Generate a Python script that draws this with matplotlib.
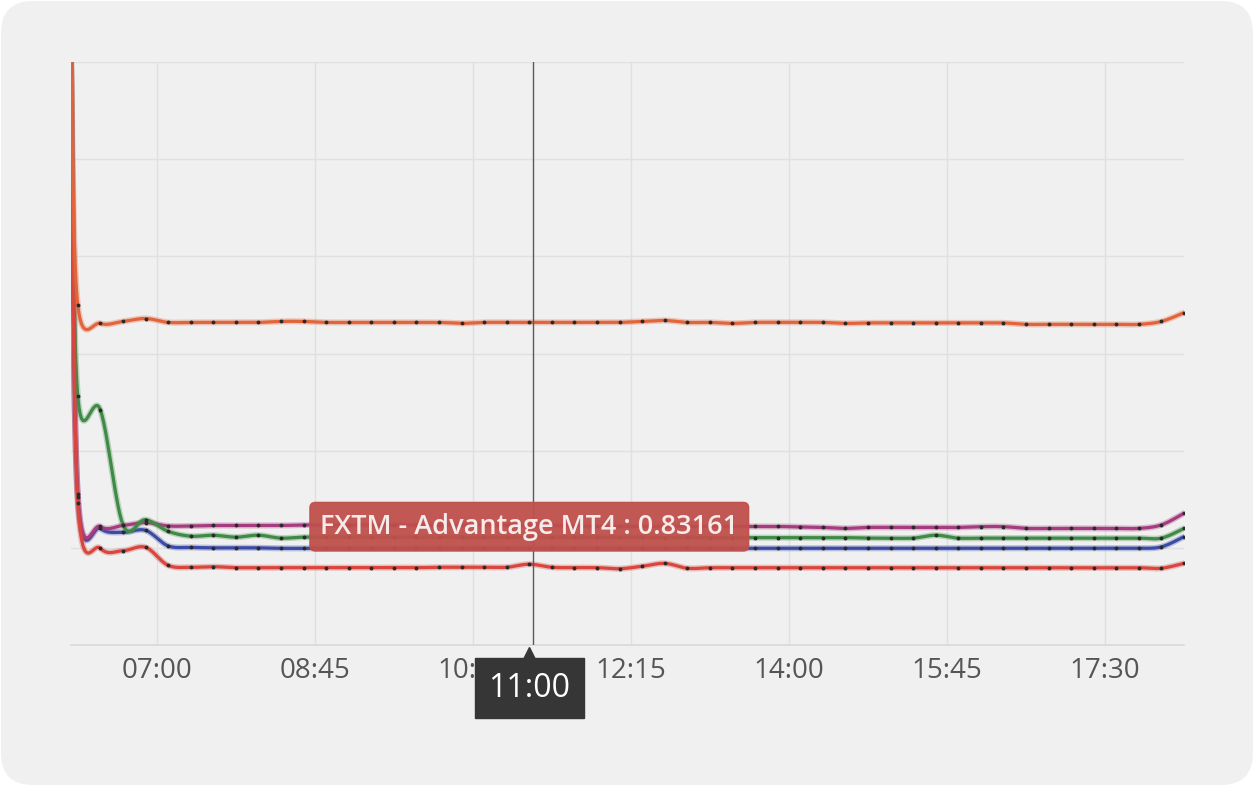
import numpy as np
import matplotlib
matplotlib.use("Agg")
import matplotlib.pyplot as plt
from matplotlib.patches import FancyBboxPatch
from matplotlib.transforms import IdentityTransform, blended_transform_factory, offset_copy

plt.rcParams['font.family'] = ['Open Sans', 'DejaVu Sans']

# vremena uzoraka (HH:MM:SS)
times = ["06:03:00", "06:07:30", "06:22:30", "06:37:30", "06:52:30", "07:07:30",
         "07:22:30", "07:37:30", "07:52:30", "08:07:30", "08:22:30", "08:37:30",
         "08:52:30", "09:07:30", "09:22:30", "09:37:30", "09:52:30", "10:07:30",
         "10:22:30", "10:37:30", "10:52:30", "11:07:30", "11:22:30", "11:37:30",
         "11:52:30", "12:07:30", "12:22:30", "12:37:30", "12:52:30", "13:07:30",
         "13:22:30", "13:37:30", "13:52:30", "14:07:30", "14:22:30", "14:37:30",
         "14:52:30", "15:07:30", "15:22:30", "15:37:30", "15:52:30", "16:07:30",
         "16:22:30", "16:37:30", "16:52:30", "17:07:30", "17:22:30", "17:37:30",
         "17:52:30", "18:07:30", "18:22:30"]

orange = [6.00, 3.50, 3.31, 3.33, 3.36, 3.32, 3.32, 3.32, 3.32, 3.32,
          3.33, 3.33, 3.32, 3.32, 3.32, 3.32, 3.32, 3.32, 3.31, 3.32,
          3.32, 3.32, 3.32, 3.32, 3.32, 3.32, 3.33, 3.34, 3.32, 3.32,
          3.31, 3.32, 3.32, 3.32, 3.32, 3.31, 3.315, 3.315, 3.315, 3.315,
          3.315, 3.315, 3.315, 3.30, 3.30, 3.30, 3.30, 3.30, 3.30, 3.33, 3.42]

purple = [6.00, 1.55, 1.22, 1.23, 1.26, 1.225, 1.225, 1.23, 1.23, 1.23,
          1.23, 1.235, 1.235, 1.235, 1.235, 1.235, 1.235, 1.235, 1.235, 1.235,
          1.235, 1.235, 1.23, 1.225, 1.22, 1.22, 1.22, 1.22, 1.22, 1.22,
          1.22, 1.22, 1.22, 1.215, 1.21, 1.20, 1.21, 1.21, 1.21, 1.21,
          1.21, 1.218, 1.218, 1.20, 1.20, 1.20, 1.20, 1.20, 1.20, 1.236, 1.356]

green = [6.00, 2.56, 2.42, 1.24, 1.29, 1.17, 1.12, 1.13, 1.11, 1.13,
         1.10, 1.11, 1.11, 1.11, 1.11, 1.11, 1.11, 1.11, 1.11, 1.11,
         1.11, 1.11, 1.11, 1.11, 1.11, 1.11, 1.11, 1.105, 1.11, 1.105,
         1.105, 1.105, 1.105, 1.105, 1.105, 1.105, 1.10, 1.10, 1.10, 1.13,
         1.10, 1.10, 1.10, 1.10, 1.10, 1.10, 1.10, 1.10, 1.10, 1.10, 1.20]

blue = [6.00, 1.52, 1.20, 1.16, 1.18, 1.02, 1.005, 1.00, 1.00, 1.00,
        0.995, 0.995, 0.995, 0.995, 0.995, 0.995, 0.995, 0.995, 0.995, 0.995,
        0.995, 0.995, 0.995, 0.995, 0.995, 0.995, 0.995, 0.995, 0.995, 0.995,
        0.995, 0.995, 0.995, 0.995, 0.995, 0.995, 0.995, 0.995, 0.995, 0.995,
        0.995, 0.995, 0.995, 0.995, 0.995, 0.995, 0.995, 0.995, 0.995, 1.01, 1.115]

red = [6.00, 1.46, 0.996, 0.97, 1.006, 0.82, 0.80, 0.806, 0.796, 0.796,
       0.796, 0.796, 0.796, 0.796, 0.796, 0.796, 0.796, 0.80, 0.80, 0.80,
       0.80, 0.83161, 0.80, 0.796, 0.796, 0.785, 0.81, 0.84, 0.79, 0.795,
       0.795, 0.795, 0.795, 0.795, 0.795, 0.795, 0.795, 0.795, 0.795, 0.795,
       0.795, 0.795, 0.795, 0.795, 0.795, 0.795, 0.795, 0.795, 0.795, 0.79, 0.84]

tick_labels = ["07:00", "08:45", "10:30", "12:15", "14:00", "15:45", "17:30"]

series = [("blue", blue, "#3b4ba6"),
          ("purple", purple, "#a53c7f"),
          ("green", green, "#3f8a46"),
          ("FXTM - Advantage MT4", red, "#d8463d"),
          ("orange", orange, "#e2643a")]

hover_idx = 21
hover_label = "11:00"
cursor_time = "11:10"


def u_minute(s):
    p = [int(v) for v in s.split(":")]
    return p[0] * 60 + p[1] + (p[2] / 60.0 if len(p) > 2 else 0.0)


def glatko(xs, ys, n=14):
    # Catmull-Rom kriva kroz tacke (kao "spline" u web grafiku)
    P = np.column_stack([xs, ys])
    P = np.vstack([P[0], P, P[-1]])
    t = np.linspace(0, 1, n, endpoint=False)[:, None]
    h00 = 2 * t ** 3 - 3 * t ** 2 + 1
    h10 = t ** 3 - 2 * t ** 2 + t
    h01 = -2 * t ** 3 + 3 * t ** 2
    h11 = t ** 3 - t ** 2
    out = []
    for i in range(1, len(P) - 2):
        m1 = (P[i + 1] - P[i - 1]) / 2.0
        m2 = (P[i + 2] - P[i]) / 2.0
        out.append(h00 * P[i] + h10 * m1 + h01 * P[i + 1] + h11 * m2)
    out.append(P[-2][None, :])
    out = np.vstack(out)
    return out[:, 0], out[:, 1]


x = np.array([u_minute(s) for s in times])

fig = plt.figure(figsize=(12.54, 7.86), dpi=100)
fig.patch.set_facecolor("white")
card = FancyBboxPatch((1, 1), 1252, 784, boxstyle="round,pad=0,rounding_size=32",
                      transform=IdentityTransform(), facecolor="#f0f0f0",
                      edgecolor="none", zorder=-10)
fig.patches.append(card)

ax = fig.add_axes([71 / 1254, 141 / 786, 1113 / 1254, 583 / 786])
ax.set_facecolor("none")
ax.set_xlim(x[0], x[-1])
ax.set_ylim(0, 6)

ax.set_yticks(np.arange(0, 7, 1))
ax.set_yticklabels([])
ax.tick_params(axis="y", length=0)
ax.set_xticks([u_minute(s) for s in tick_labels])
ax.set_xticklabels(tick_labels, fontsize=20, color="#555555")
ax.tick_params(axis="x", length=0, pad=9)
ax.grid(True, color="#e0e0e0", linewidth=1.0)
ax.set_axisbelow(True)
for s in ["top", "right", "left"]:
    ax.spines[s].set_visible(False)
ax.spines["bottom"].set_color("#d8d8d8")
ax.spines["bottom"].set_linewidth(1.2)

for name, vals, col in series:
    sx, sy = glatko(x, vals)
    ax.plot(sx, sy, color=col, linewidth=4.4, alpha=0.3, solid_capstyle="round", zorder=3)
    ax.plot(sx, sy, color=col, linewidth=2.3, solid_capstyle="round", zorder=3)
    ax.plot(x[1:], vals[1:], linestyle="none", marker="o", markersize=1.8,
            color="#2a2a2a", zorder=4)

# kursor
ax.axvline(u_minute(cursor_time), color="#5a5a5a", linewidth=1.0, zorder=5)

# tooltip
hx = x[hover_idx]
hy = red[hover_idx]
ax.annotate("FXTM - Advantage MT4 : %.5f" % hy, xy=(hx, hy), xytext=(0, 27),
            textcoords="offset points", ha="center", va="center", fontsize=19.5,
            fontweight="semibold", color="#f6eaea", zorder=8,
            bbox=dict(boxstyle="round,pad=0.38,rounding_size=0.2", facecolor="#c0504c",
                      edgecolor="#c0504c", alpha=0.95))

# oznaka vremena ispod ose
trans = blended_transform_factory(ax.transData, ax.transAxes)
ax.annotate(hover_label, xy=(hx, 0), xycoords=trans, xytext=(0, -31),
            textcoords="offset points", ha="center", va="center", fontsize=23,
            color="white", zorder=8, annotation_clip=False,
            bbox=dict(boxstyle="square,pad=0.42", facecolor="#363636", edgecolor="#363636"))
tri = offset_copy(trans, fig=fig, x=0, y=-8, units="dots")
ax.plot([hx], [0], transform=tri, marker="^", markersize=9, color="#363636",
        clip_on=False, zorder=8)

plt.savefig("out.png", dpi=100, facecolor=fig.get_facecolor())
